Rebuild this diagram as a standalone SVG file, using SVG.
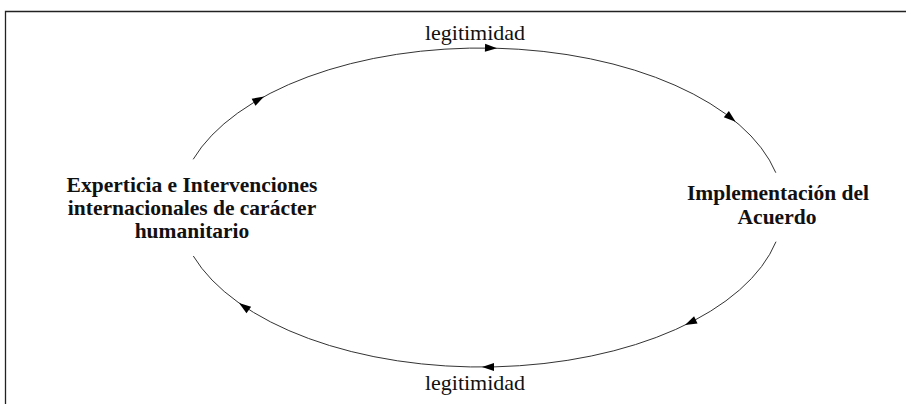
<svg xmlns="http://www.w3.org/2000/svg" xmlns:xlink="http://www.w3.org/1999/xlink" width="906" height="404" viewBox="0 0 906 404">
<style>
.frame{fill:none;stroke:#222;stroke-width:1.3}
.arc{fill:none;stroke:#333;stroke-width:1}
.node{font-family:"Liberation Serif","Times New Roman",serif;font-weight:bold;font-size:21.5px;fill:#111;text-anchor:middle}
.lbl{font-family:"Liberation Serif","Times New Roman",serif;font-size:22px;fill:#111;text-anchor:middle}
</style>
<defs>
<path id="ah" d="M0,0 L-12,-4 L-12,4 Z" fill="#000"/>
</defs>
<rect width="906" height="404" fill="#fff"/>
<path class="frame" d="M5.5,404 V11.5 H906"/>
<g id="connectors">
<path class="arc" d="M193.2,159.3 A302,159.5 0 0 1 775.8,172.7"/>
<path class="arc" d="M776,241.7 A302,159.5 0 0 1 193.3,256"/>
<use xlink:href="#ah" transform="translate(264.1,96.5) rotate(-28.6)"/>
<use xlink:href="#ah" transform="translate(497,48.2) rotate(1.6)"/>
<use xlink:href="#ah" transform="translate(735.6,121.7) rotate(39.6)"/>
<use xlink:href="#ah" transform="translate(685,325) rotate(154.2)"/>
<use xlink:href="#ah" transform="translate(482,367) rotate(180)"/>
<use xlink:href="#ah" transform="translate(239,303) rotate(-144.8)"/>
<text class="lbl" x="475" y="40">legitimidad</text>
<text class="lbl" x="475" y="390">legitimidad</text>
</g>
<g id="node-experticia">
<text class="node" x="192" y="191.7">Experticia e Intervenciones</text>
<text class="node" x="192" y="215">internacionales de carácter</text>
<text class="node" x="192" y="237.7">humanitario</text>
</g>
<g id="node-implementacion">
<text class="node" x="778" y="200">Implementación del</text>
<text class="node" x="777" y="224.3">Acuerdo</text>
</g>
</svg>
